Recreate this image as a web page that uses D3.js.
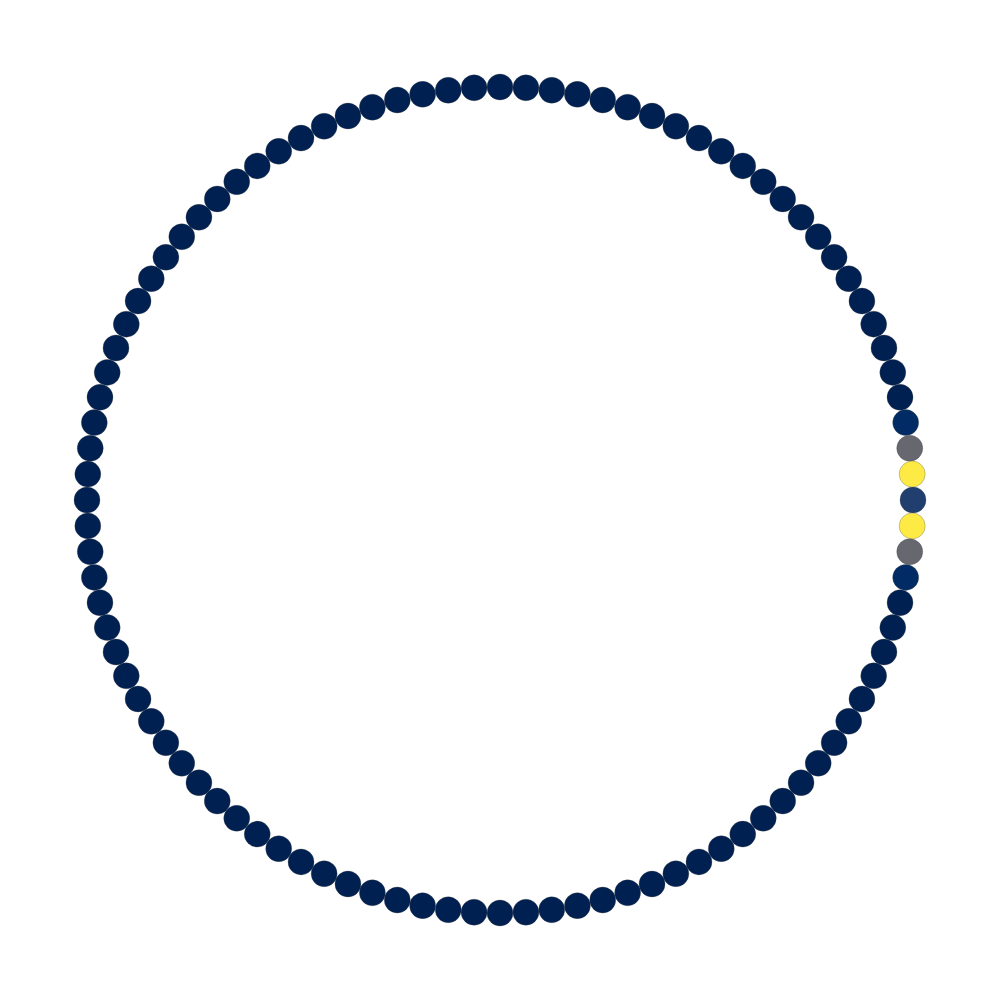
<!DOCTYPE html>
<html><head><meta charset="utf-8">
<script src="https://cdn.jsdelivr.net/npm/d3@7"></script>
<style>body{margin:0;background:#fff}</style>
</head><body>
<svg id="c" width="1000" height="1000"></svg>
<script>
const nodeCount = 100;
const nodeIds = d3.range(nodeCount);
// intensity values (index 0 at the rightmost point)
const peakValues = [0.17, 1.0, 0.39, 0.06];
const values = nodeIds.map(i => {
  const d = Math.min(i, nodeCount - i);
  return d < peakValues.length ? peakValues[d] : 0;
});

const svg = d3.select("#c");
const cx = 500, cy = 500, R = 413, r = 13;
const angle = d3.scaleLinear().domain([0, nodeCount]).range([0, 2 * Math.PI]);
const color = d3.scaleSequential(d3.interpolateCividis).domain([0, 1]);

svg.append("g").selectAll("circle").data(nodeIds).join("circle")
  .attr("cx", i => cx + R * Math.cos(angle(i)))
  .attr("cy", i => cy + R * Math.sin(angle(i)))
  .attr("r", r)
  .attr("fill", i => color(values[i]))
  .attr("stroke", "#444")
  .attr("stroke-width", 0.3);
</script>
</body></html>
